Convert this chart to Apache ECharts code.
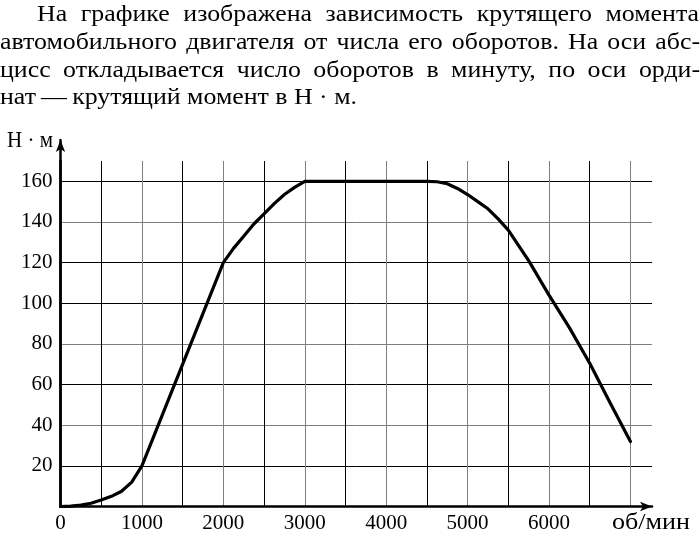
<!DOCTYPE html>
<html>
<head>
<meta charset="utf-8">
<script src="https://cdn.jsdelivr.net/npm/echarts@6/dist/echarts.min.js"></script>
<style>html,body{margin:0;padding:0;background:#fff}#c{width:700px;height:537px}</style>
</head>
<body>
<div id="c"></div>
<script>
// Data
const rpm = [0, 125, 250, 375, 500, 625, 750, 875, 1000, 2000, 2125, 2250, 2375, 2500, 2625, 2750, 2875, 3000, 4500, 4625, 4750, 4875, 5000, 5125, 5250, 5375, 5500, 5750, 6000, 6250, 6500, 6750, 7000];
const torque = [0, 0.2, 0.7, 1.6, 3.2, 5, 7.5, 12, 20, 120, 127, 133, 139, 144, 149, 153.5, 157, 160, 160, 159.8, 158.8, 156.5, 153.5, 150, 146.5, 141.5, 136, 121, 104, 88, 70.5, 51, 32];
const xTickLabels = ['0', '1000', '2000', '3000', '4000', '5000', '6000'];
const yTickLabels = ['20', '40', '60', '80', '100', '120', '140', '160'];
const yAxisName = 'Н · м';
const xAxisName = 'об/мин';
const paragraph = [
  'На графике изображена зависимость крутящего момента',
  'автомобильного двигателя от числа его оборотов. На оси абс-',
  'цисс откладывается число оборотов в минуту, по оси орди-',
  'нат\u2009—\u2009крутящий момент в Н · м.'
];

const FONT = '"Liberation Serif", "DejaVu Serif", serif';
const FS = 21;
const PFS = 24;
const NFS = 23;
const chart = echarts.init(document.getElementById('c'), null, {renderer: 'canvas'});

// measuring helper
const cv = document.createElement('canvas').getContext('2d');
function measure(t, fs) { cv.font = fs + "px 'Liberation Serif', 'DejaVu Serif', serif"; return cv.measureText(t).width; }

// horizontal stretch so the last (natural) line matches reference width
const lastLineWidth = 357;
const SX = lastLineWidth / measure(paragraph[3], PFS);
const BASE = 0.82; // baseline offset from top (fraction of font size)

const lineCfg = [
  {left: 37, right: 699, y: 22, justify: true},
  {left: 0, right: 700, y: 50, justify: true},
  {left: 0, right: 700, y: 78, justify: true},
  {left: 0, right: 700, y: 105, justify: false}
];
const textEls = [];
paragraph.forEach((line, i) => {
  const cfg = lineCfg[i];
  const words = line.split(' ');
  const widths = words.map(w => measure(w, PFS) * SX);
  const total = widths.reduce((a, b) => a + b, 0);
  const gap = cfg.justify && words.length > 1 ? (cfg.right - cfg.left - total) / (words.length - 1) : measure(' ', PFS) * SX;
  let x = cfg.left;
  words.forEach((w, j) => {
    textEls.push({type: 'text', x: x, y: cfg.y - BASE * PFS, scaleX: SX, originX: 0, originY: 0,
      style: {text: w, font: PFS + 'px ' + FONT, fill: '#000', verticalAlign: 'top', align: 'left'}});
    x += widths[j] + gap;
  });
});

const xNameSX = 78 / measure(xAxisName, NFS);
const yNameSX = 46 / measure(yAxisName, NFS);

const grayC = '#7f7f7f', blackC = '#000';
const ySplitColors = [blackC, grayC, blackC, grayC, blackC, blackC, grayC, blackC, grayC];

const option = {
  animation: false,
  backgroundColor: '#fff',
  grid: [
    {left: 60.5, right: 48, top: 161, bottom: 30.5, containLabel: false},
    {left: 60.5, right: 48, top: 140, bottom: 30.5, containLabel: false}
  ],
  xAxis: [
    {
      type: 'value', gridIndex: 0, min: 0, max: 7265, interval: 500,
      axisLine: {show: true, onZero: true, lineStyle: {color: '#000', width: 2.5}, symbol: ['none', 'arrow'], symbolSize: [7, 12]},
      axisTick: {show: false},
      axisLabel: {
        show: true, margin: 6, color: '#000', fontFamily: FONT, fontSize: FS, showMaxLabel: false,
        formatter: v => { const k = Math.round(v / 1000); return (v % 1000 === 0 && k < xTickLabels.length) ? xTickLabels[k] : ''; }
      },
      splitLine: {show: true, showMinLine: false, showMaxLine: false, lineStyle: {color: [blackC, grayC], width: 1}}
    },
    {type: 'value', gridIndex: 1, min: 0, max: 7265, show: false}
  ],
  yAxis: [
    {
      type: 'value', gridIndex: 0, min: 0, max: 170, interval: 20,
      axisLine: {show: true, lineStyle: {color: '#000', width: 2.5}},
      axisTick: {show: false},
      axisLabel: {
        show: true, margin: 8, color: '#000', fontFamily: FONT, fontSize: FS, showMaxLabel: false,
        formatter: v => { const k = Math.round(v / 20); return (v % 20 === 0 && k >= 1 && k <= yTickLabels.length) ? yTickLabels[k - 1] : ''; }
      },
      splitLine: {show: true, showMinLine: false, showMaxLine: false, lineStyle: {color: ySplitColors, width: 1}}
    },
    {
      type: 'value', gridIndex: 1, min: 0, max: 170,
      axisLine: {show: true, lineStyle: {color: '#000', width: 2.5}, symbol: ['none', 'arrow'], symbolSize: [7, 12]},
      axisTick: {show: false}, axisLabel: {show: false}, splitLine: {show: false}
    }
  ],
  graphic: textEls.concat([
    {type: 'text', x: 7, y: 148 - BASE * NFS, scaleX: yNameSX, originX: 0, originY: 0, style: {text: yAxisName, font: NFS + 'px ' + FONT, fill: '#000', verticalAlign: 'top'}},
    {type: 'text', x: 612, y: 530 - BASE * NFS, scaleX: xNameSX, originX: 0, originY: 0, style: {text: xAxisName, font: NFS + 'px ' + FONT, fill: '#000', verticalAlign: 'top'}}
  ]),
  series: [{
    type: 'line', xAxisIndex: 0, yAxisIndex: 0,
    data: rpm.map((x, i) => [x, torque[i]]),
    showSymbol: false, symbol: 'none', smooth: false,
    lineStyle: {color: '#000', width: 3.2, join: 'round', cap: 'round'},
    z: 5
  }]
};
chart.setOption(option);
</script>
</body>
</html>
